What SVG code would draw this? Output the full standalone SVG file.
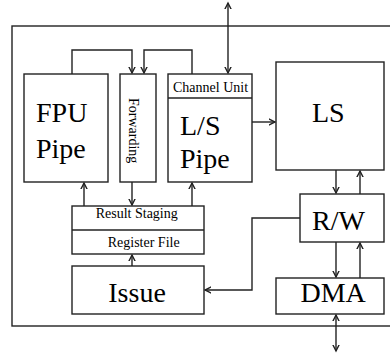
<svg xmlns="http://www.w3.org/2000/svg" width="390" height="353" viewBox="0 0 390 353">
<style>
.box{fill:#fff;stroke:#222;stroke-width:1.4}
.frame{fill:none;stroke:#222;stroke-width:1.4}
.ln{fill:none;stroke:#222;stroke-width:1.4}
text{font-family:'Liberation Serif','Times New Roman',Times,serif;fill:#000}
.big{font-size:28px}
.sm{font-size:14px}
</style>
<defs>
<marker id="ah" markerUnits="userSpaceOnUse" markerWidth="12" markerHeight="12" viewBox="-6 -6 12 12" refX="0" refY="0" orient="auto-start-reverse">
<path d="M-9,-4.5 L0,0 L-9,4.5" fill="none" stroke="#222" stroke-width="1.4"/>
</marker>
</defs>
<rect x="0" y="0" width="390" height="353" fill="#fff"/>
<rect id="frame" class="frame" x="12" y="26" width="392" height="300"/>
<g id="connectors">
<path class="ln" d="M228,3 V73" marker-start="url(#ah)" marker-end="url(#ah)"/>
<path class="ln" d="M72,74 V50 H132 V73" marker-end="url(#ah)"/>
<path class="ln" d="M192,74 V50 H144 V73" marker-end="url(#ah)"/>
<path class="ln" d="M252,122 H275" marker-end="url(#ah)"/>
<path class="ln" d="M336,170 V193" marker-end="url(#ah)"/>
<path class="ln" d="M360,194 V171" marker-end="url(#ah)"/>
<path class="ln" d="M336,242 V277" marker-end="url(#ah)"/>
<path class="ln" d="M360,278 V243" marker-end="url(#ah)"/>
<path class="ln" d="M336,315 V351" marker-start="url(#ah)" marker-end="url(#ah)"/>
<path class="ln" d="M300,218 H252 V290 H205" marker-end="url(#ah)"/>
<path class="ln" d="M84,206 V183" marker-end="url(#ah)"/>
<path class="ln" d="M132,182 V205" marker-end="url(#ah)"/>
<path class="ln" d="M192,206 V183" marker-end="url(#ah)"/>
<path class="ln" d="M132,266 V255" marker-end="url(#ah)"/>
</g>
<g id="fpu">
<rect class="box" x="24" y="74" width="84" height="108"/>
<text class="big" font-family="Liberation Serif, serif" x="36" y="122">FPU</text>
<text class="big" font-family="Liberation Serif, serif" x="36" y="158">Pipe</text>
</g>
<g id="forwarding">
<rect class="box" x="120" y="74" width="36" height="108"/>
<text class="sm" font-family="Liberation Serif, serif" transform="translate(128.5,98) rotate(90)" x="0" y="0">Forwarding</text>
</g>
<g id="lspipe">
<rect class="box" x="168" y="74" width="84" height="108"/>
<line class="ln" x1="168" y1="98" x2="252" y2="98"/>
<text class="sm" font-family="Liberation Serif, serif" x="173" y="91.5">Channel Unit</text>
<text class="big" font-family="Liberation Serif, serif" x="180" y="135">L/S</text>
<text class="big" font-family="Liberation Serif, serif" x="180" y="168">Pipe</text>
</g>
<g id="ls">
<rect class="box" x="276" y="62" width="108" height="108"/>
<text class="big" font-family="Liberation Serif, serif" x="312" y="122">LS</text>
</g>
<g id="rw">
<rect class="box" x="300" y="194" width="84" height="48"/>
<text class="big" font-family="Liberation Serif, serif" x="312" y="229.5">R/W</text>
</g>
<g id="dma">
<rect class="box" x="276" y="278" width="108" height="36"/>
<text class="big" font-family="Liberation Serif, serif" x="300.5" y="302">DMA</text>
</g>
<g id="regs">
<rect class="box" x="72" y="206" width="132" height="48"/>
<line class="ln" x1="72" y1="230" x2="204" y2="230"/>
<text class="sm" font-family="Liberation Serif, serif" x="95.7" y="218.3">Result Staging</text>
<text class="sm" font-family="Liberation Serif, serif" x="107.7" y="246.5">Register File</text>
</g>
<g id="issue">
<rect class="box" x="72" y="266" width="132" height="48"/>
<text class="big" font-family="Liberation Serif, serif" x="108.3" y="301.7">Issue</text>
</g>
</svg>
